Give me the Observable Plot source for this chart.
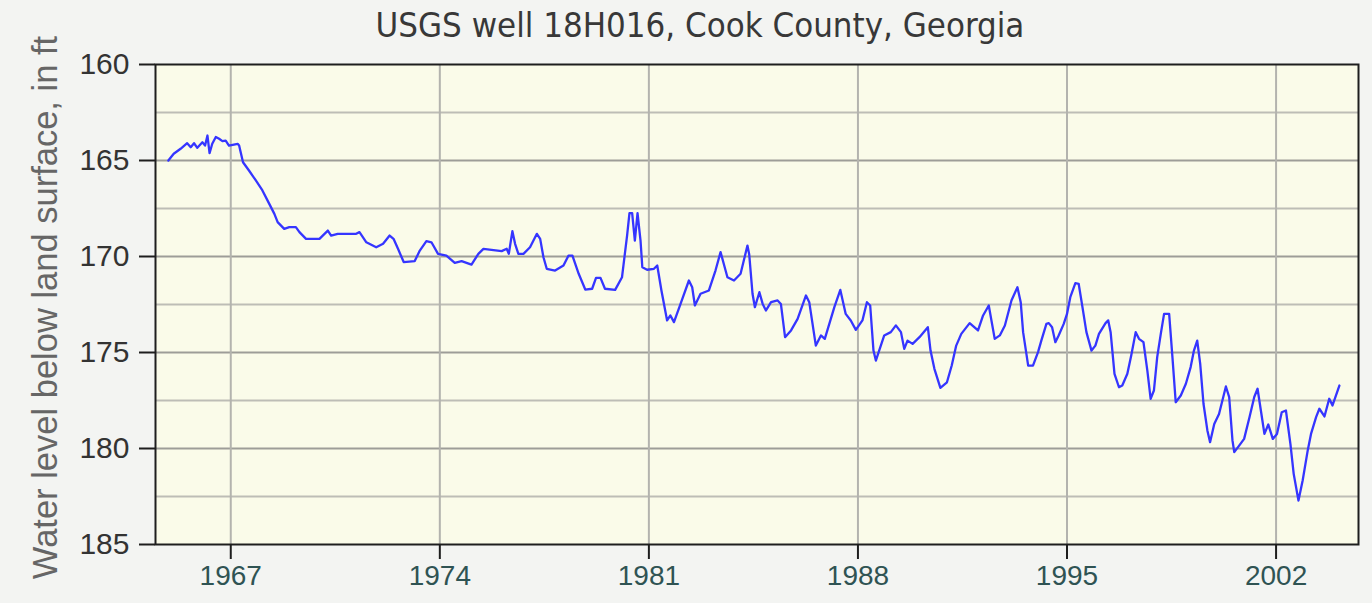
<!DOCTYPE html>
<html>
<head>
<meta charset="utf-8">
<script src="https://cdn.jsdelivr.net/npm/d3@7"></script>
<script src="https://cdn.jsdelivr.net/npm/@observablehq/plot@0.6"></script>
<style>
  html, body { margin: 0; padding: 0; background: #f3f4f2; }
  #title { width: 1372px; height: 50px; line-height: 50px; text-align: center;
    font-family: "DejaVu Sans Condensed", "DejaVu Sans", sans-serif; font-size: 34.5px; color: #383838; padding-left: 28px; box-sizing: border-box; }
  #chart svg { display: block; overflow: visible; }
</style>
</head>
<body>
<div id="title">USGS well 18H016, Cook County, Georgia</div>
<div id="chart"></div>
<script>
const titleText = "USGS well 18H016, Cook County, Georgia";
const yLabel = "Water level below land surface, in ft";
const xTicks = [1967, 1974, 1981, 1988, 1995, 2002];
const yTicks = [160, 165, 170, 175, 180, 185];
const yMinor = [162.5, 167.5, 172.5, 177.5, 182.5];

const years = [
1964.91,1965.09,1965.32,1965.54,1965.66,1965.77,1965.88,1966.05,1966.14,1966.22,1966.29,1966.38,1966.50,1966.61,1966.72,1966.83,1966.94,1967.23,1967.28,1967.41,1967.61,1967.84,1968.06,1968.29,1968.46,1968.57,1968.79,1968.96,1969.18,1969.30,1969.52,1969.97,1970.08,1970.25,1970.36,1970.58,1971.20,1971.31,1971.54,1971.87,1972.10,1972.32,1972.45,1972.60,1972.79,1973.16,1973.33,1973.55,1973.72,1973.94,1974.22,1974.50,
1974.73,1975.06,1975.29,1975.46,1976.07,1976.24,1976.31,1976.43,1976.52,1976.63,1976.80,1977.02,1977.25,1977.36,1977.47,1977.58,1977.86,1978.14,1978.31,1978.44,1978.65,1978.87,1979.10,1979.23,1979.38,1979.53,1979.87,1980.10,1980.27,1980.35,1980.44,1980.53,1980.62,1980.72,1980.78,1980.94,1981.17,1981.28,1981.42,1981.61,1981.72,1981.84,1982.06,1982.34,1982.45,1982.54,1982.73,1983.01,1983.23,1983.40,1983.63,1983.85,1984.07,1984.30,1984.36,1984.47,
1984.55,1984.70,1984.81,1984.92,1985.09,1985.31,1985.42,1985.56,1985.76,1985.98,1986.26,1986.37,1986.59,1986.76,1986.89,1987.21,1987.41,1987.59,1987.76,1987.93,1988.15,1988.30,1988.41,1988.52,1988.60,1988.71,1988.88,1989.10,1989.27,1989.44,1989.55,1989.66,1989.83,1990.06,1990.34,1990.43,1990.56,1990.76,1990.98,1991.14,1991.29,1991.46,1991.74,1992.02,1992.19,1992.38,1992.58,1992.75,1992.92,1993.14,1993.34,1993.45,1993.53,1993.70,1993.86,1994.03,1994.14,1994.31,
1994.39,1994.50,1994.61,1994.72,1994.89,1995.00,1995.11,1995.28,1995.39,1995.50,1995.65,1995.82,1995.95,1996.07,1996.29,1996.38,1996.46,1996.59,1996.74,1996.85,1997.02,1997.15,1997.30,1997.41,1997.56,1997.69,1997.80,1997.91,1998.02,1998.14,1998.25,1998.42,1998.53,1998.64,1998.81,1998.98,1999.14,1999.25,1999.36,1999.46,1999.57,1999.70,1999.79,1999.93,2000.09,2000.32,2000.43,2000.54,2000.60,2000.77,2000.93,2001.11,2001.27,2001.38,2001.50,2001.61,2001.74,2001.89,2002.03,2002.19,2002.33,2002.48,2002.59,2002.75,2002.89,2003.06,2003.17,2003.34,2003.45,2003.62,2003.78,2003.89,2004.12
];
const levels = [
165.00,164.65,164.39,164.10,164.31,164.10,164.34,164.05,164.22,163.70,164.62,164.13,163.78,163.87,163.99,163.96,164.22,164.13,164.22,165.09,165.52,166.04,166.56,167.26,167.78,168.21,168.56,168.47,168.47,168.73,169.08,169.08,168.91,168.65,168.91,168.82,168.82,168.73,169.26,169.52,169.34,168.91,169.08,169.60,170.29,170.24,169.69,169.20,169.26,169.86,169.95,170.33,
170.24,170.42,169.86,169.60,169.72,169.60,169.86,168.68,169.34,169.86,169.86,169.52,168.82,169.08,170.04,170.64,170.73,170.47,169.95,169.95,170.90,171.72,171.68,171.11,171.11,171.68,171.74,171.08,168.91,167.74,167.74,169.17,167.74,169.17,170.56,170.69,170.64,170.47,171.77,173.33,173.07,173.42,172.47,171.25,171.60,172.55,171.94,171.77,170.73,169.77,171.08,171.25,170.90,169.43,169.90,171.94,
172.64,171.86,172.47,172.81,172.38,172.29,172.47,174.20,173.85,173.25,172.03,172.38,174.64,174.11,174.29,172.64,171.74,172.99,173.33,173.82,173.33,172.38,172.55,174.90,175.42,174.90,174.11,173.94,173.59,173.94,174.81,174.38,174.55,174.20,173.68,174.90,175.85,176.84,176.55,175.68,174.64,174.03,173.47,173.85,173.07,172.55,174.29,174.11,173.59,172.29,171.60,172.38,173.94,175.68,175.68,174.98,174.38,173.51,
173.47,173.68,174.46,174.11,173.51,172.99,172.12,171.39,171.42,172.47,173.94,174.90,174.64,174.03,173.47,173.33,173.94,176.11,176.81,176.72,176.11,175.16,173.94,174.29,174.46,175.94,177.41,176.98,175.24,174.03,172.99,172.99,175.24,177.59,177.24,176.63,175.76,174.90,174.38,175.59,177.67,179.06,179.67,178.72,178.20,176.77,177.32,179.58,180.19,179.84,179.50,178.37,177.32,176.89,178.11,179.24,178.75,179.50,179.24,178.11,178.02,179.76,181.32,182.71,181.67,180.10,179.24,178.37,177.93,178.33,177.41,177.76,176.72
];

const data = years.map((y, i) => ({year: y, level: levels[i]}));

const chart = Plot.plot({
  width: 1372,
  height: 553,
  marginTop: 14,
  marginBottom: 59,
  marginLeft: 155,
  marginRight: 14,
  style: {background: "transparent", fontFamily: "'Liberation Sans', Arial, sans-serif", overflow: "visible"},
  x: {domain: [1964.48, 2004.76], label: null},
  y: {domain: [160, 185], reverse: true, label: null},
  marks: [
    Plot.frame({fill: "#fafbe9", stroke: null}),
    Plot.ruleY(yMinor, {stroke: "#bdbdb6", strokeWidth: 2}),
    Plot.ruleY(yTicks.slice(1, -1), {stroke: "#9d9d98", strokeWidth: 2}),
    Plot.ruleX(xTicks, {stroke: "#b3b3ae", strokeWidth: 2}),
    Plot.line(data, {x: "year", y: "level", stroke: "#3535ff", strokeWidth: 2.3}),
    Plot.frame({stroke: "#1e1e1e", strokeWidth: 2}),
    Plot.axisY({ticks: yTicks, tickSize: 16, tickPadding: 10, strokeWidth: 2, stroke: "#1e1e1e", fill: "#333", fontSize: 30, tickFormat: d => String(d), label: null}),
    Plot.axisX({ticks: xTicks, tickSize: 15, tickPadding: 6, strokeWidth: 2, stroke: "#1e1e1e", fill: "#2f5353", fontSize: 28, tickFormat: d => String(d), label: null}),
    Plot.text([yLabel], {frameAnchor: "left", text: d => d, rotate: -90, textAnchor: "middle", dx: -110, dy: 3, fontSize: 34.5, fill: "#666"})
  ]
});
document.getElementById("chart").appendChild(chart);
</script>
</body>
</html>
